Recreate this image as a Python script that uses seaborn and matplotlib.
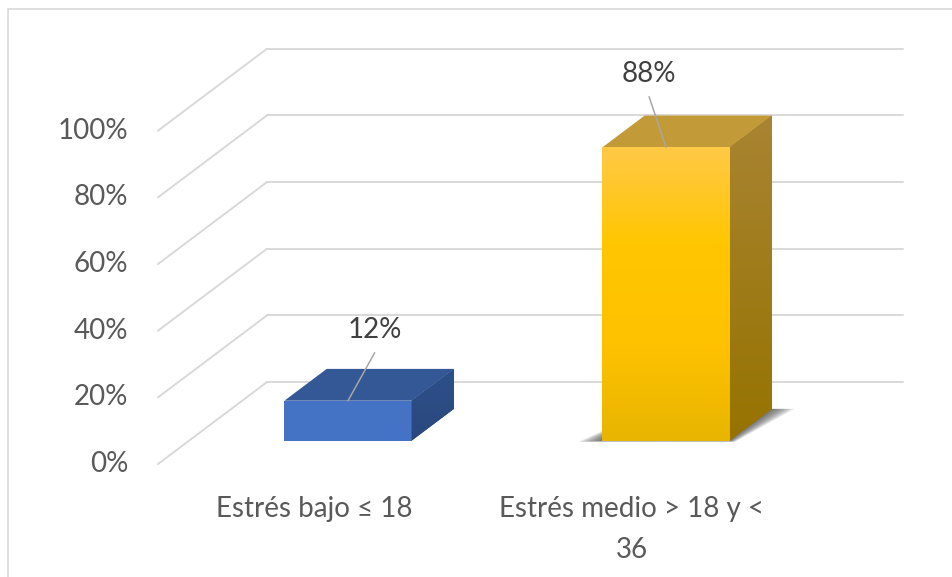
import numpy as np
import pandas as pd
import matplotlib
matplotlib.use("Agg")
import matplotlib.pyplot as plt
from matplotlib.colors import LinearSegmentedColormap
from matplotlib.patches import Polygon, Rectangle
import seaborn as sns

# ==========================================================
# DATA
# ==========================================================

CATEGORIES = ["Estrés bajo ≤ 18", "Estrés medio > 18 y <\n36"]
VALUES = [12, 88]
VALUE_LABELS = ["12%", "88%"]
TICKS = [0, 20, 40, 60, 80, 100]
TICK_LABELS = ["0%", "20%", "40%", "60%", "80%", "100%"]

# ==========================================================
# STYLE / 3D GEOMETRY
# ==========================================================

FRONT_COLORS = ["#4472C4", "#FFC000"]
TOP_COLORS = ["#335895", "#C39A38"]
SIDE_GRAD = [["#2D5089", "#2A487E"], ["#A98433", "#967300"]]
FRONT_GRAD = [None, ["#E8B500", "#FFC200", "#FFC600", "#FFC946"]]
SHADOW = [False, True]

GRID_COLOR = "#D9D9D9"
TEXT_COLOR = "#595959"
LEADER_COLOR = "#A6A6A6"
FONT_SIZE = 20
LINE_STEP = 12.2     # distance between label lines (percent units)

BAR_WIDTH = 0.4
DEPTH_DX = 0.343     # x shift for full floor depth (category units)
DEPTH_DY = 24.6      # y shift for full floor depth (percent units)
Z_FRONT, Z_BACK = 0.284, 0.672
LABEL_OFFSET = [(0.084, 21.2), (-0.053, 22.0)]

sns.set_theme(style="white")
plt.rcParams["font.family"] = ["Lato", "DejaVu Sans"]


def proj(x, y, z):
    return x + z * DEPTH_DX, y + z * DEPTH_DY


def gradient_fill(ax, patch, colors, zorder):
    cmap = LinearSegmentedColormap.from_list("g", colors)
    if isinstance(patch, Rectangle):
        verts = patch.get_path().transformed(patch.get_patch_transform()).vertices
    else:
        verts = patch.get_xy()
    x0, x1 = verts[:, 0].min(), verts[:, 0].max()
    y0, y1 = verts[:, 1].min(), verts[:, 1].max()
    grad = np.linspace(0, 1, 256).reshape(-1, 1)
    im = ax.imshow(grad, extent=[x0, x1, y0, y1], origin="lower",
                   aspect="auto", cmap=cmap, zorder=zorder)
    im.set_clip_path(patch)


fig = plt.figure(figsize=(9.52, 5.77), dpi=100)
ax = fig.add_axes([0, 0, 1, 1])

# ---------------------------
# walls (gridlines)
# ---------------------------
for v in TICKS:
    bx, by = proj(-0.5, v, 1)
    ex, _ = proj(1.5, v, 1)
    ax.plot([bx, ex], [by, by], color=GRID_COLOR, lw=1.4, zorder=1)
    ax.plot([-0.5, bx], [v, by], color=GRID_COLOR, lw=1.4, zorder=1)

# ---------------------------
# front faces with seaborn
# ---------------------------
positions = np.arange(len(CATEGORIES))
df = pd.DataFrame({
    "categoria": CATEGORIES,
    "valor": VALUES,
    "pos": positions + Z_FRONT * DEPTH_DX,
})

sns.barplot(
    data=df, x="pos", y="valor", hue="categoria",
    palette=dict(zip(CATEGORIES, FRONT_COLORS)), saturation=1,
    native_scale=True, width=BAR_WIDTH, errorbar=None, legend=False,
    bottom=Z_FRONT * DEPTH_DY, linewidth=0, zorder=3, ax=ax,
)
front_bars = list(ax.patches)

for i, (v, bar) in enumerate(zip(VALUES, front_bars)):
    x0, x1 = positions[i] - BAR_WIDTH / 2, positions[i] + BAR_WIDTH / 2

    if SHADOW[i]:
        for e in np.linspace(0.07, 0.0, 8):
            pts = [proj(x0 - e, 0, Z_FRONT - e * 0.2), proj(x1 + e * 0.3, 0, Z_FRONT - e * 0.2),
                   proj(x1 + e, 0, Z_BACK), proj(x0 + e * 0.3, 0, Z_BACK)]
            ax.add_patch(Polygon(pts, closed=True, facecolor="#3A3A3A",
                                 edgecolor="none", alpha=0.14, zorder=2))

    if FRONT_GRAD[i] is not None:
        gradient_fill(ax, bar, FRONT_GRAD[i], zorder=3.1)

    top = Polygon([proj(x0, v, Z_FRONT), proj(x1, v, Z_FRONT),
                   proj(x1, v, Z_BACK), proj(x0, v, Z_BACK)],
                  closed=True, facecolor=TOP_COLORS[i], edgecolor="none", zorder=3)
    ax.add_patch(top)

    side = Polygon([proj(x1, 0, Z_FRONT), proj(x1, 0, Z_BACK),
                    proj(x1, v, Z_BACK), proj(x1, v, Z_FRONT)],
                   closed=True, facecolor=SIDE_GRAD[i][1], edgecolor="none", zorder=3)
    ax.add_patch(side)
    gradient_fill(ax, side, SIDE_GRAD[i][::-1], zorder=3.1)

    # data label with leader line
    fx, fy = proj(positions[i], v, Z_FRONT)
    lx, ly = fx + LABEL_OFFSET[i][0], fy + LABEL_OFFSET[i][1]
    ax.plot([fx, lx], [fy, ly - 6.8], color=LEADER_COLOR, lw=1.1, zorder=4)
    ax.text(lx, ly, VALUE_LABELS[i], ha="center", va="center",
            fontsize=FONT_SIZE, color="#404040", zorder=5)

# ---------------------------
# axis texts
# ---------------------------
for v, lab in zip(TICKS, TICK_LABELS):
    ax.text(-0.594, v, lab, ha="right", va="center",
            fontsize=FONT_SIZE, color=TEXT_COLOR)

for i, lab in enumerate(CATEGORIES):
    for k, line in enumerate(lab.split("\n")):
        ax.text(positions[i] - 0.01, -15.9 - k * LINE_STEP, line,
                ha="center", va="baseline", fontsize=FONT_SIZE, color=TEXT_COLOR)

ax.set_xlim(-0.997, 1.997)
ax.set_ylim(-33.9, 139.2)
ax.set_axis_off()

# chart area border (cut at right / bottom like the original)
fig.add_artist(Rectangle((8 / 952, -0.1), 1.2, 1.1 - 9 / 577,
                         transform=fig.transFigure, fill=False,
                         edgecolor=GRID_COLOR, lw=1.2))

fig.savefig("out.png", dpi=100)
plt.close(fig)
